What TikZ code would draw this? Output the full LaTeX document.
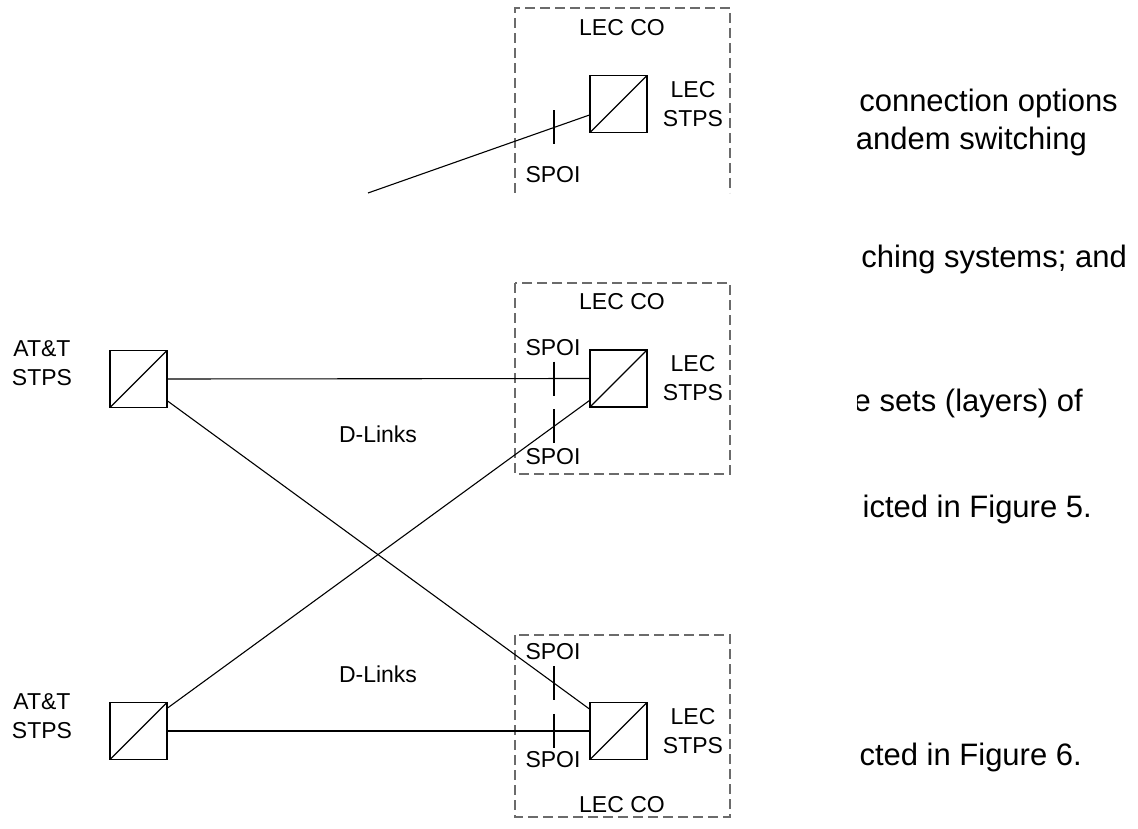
\documentclass[tikz,border=0pt]{standalone}
\usepackage{fontspec}
\setmainfont{Liberation Sans}
\usetikzlibrary{calc,intersections}
\tikzset{
  stp/.style={draw, line width=1.1pt, minimum size=57pt, inner sep=0pt,
    path picture={\draw[line width=1.1pt] (path picture bounding box.south west) -- (path picture bounding box.north east);}},
  lbl/.style={inner sep=0pt, font=\fontsize{23}{29}\selectfont, align=center},
  para/.style={inner sep=0pt, font=\fontsize{31}{38}\selectfont, anchor=base east},
  link/.style={line width=1.1pt},
  cobox/.style={draw=black!58, line width=1.1pt, dash pattern=on 10pt off 5pt},
  tick/.style={line width=1.1pt}
}
\begin{document}
\begin{tikzpicture}[x=1pt,y=-1pt]
\useasboundingbox (0,0) rectangle (1138,829);
% CO boxes
\draw[cobox] (515,193) -- (515,8) -- (730,8) -- (730,193);
\draw[cobox] (515,283) rectangle (730,474);
\draw[cobox] (515,635) rectangle (730,817);
% switches
\node[stp] (lecT) at (618.5,104) {};
\node[stp] (lecM) at (618.5,378.5) {};
\node[stp] (lecB) at (618.5,731) {};
\node[stp] (attU) at (138.5,379) {};
\node[stp] (attL) at (138.5,731) {};
\coordinate (free) at (368,193);
% labels
\node[lbl] (coT) at (622,27.5) {LEC CO};
\node[lbl] (coM) at (622,302) {LEC CO};
\node[lbl] (coB) at (622,805) {LEC CO};
\node[lbl] (stT) at (693,104) {LEC\\STPS};
\node[lbl] (stM) at (693,378) {LEC\\STPS};
\node[lbl] (stB) at (693,731.5) {LEC\\STPS};
\node[lbl] (atU) at (42,363.5) {AT\&T\\STPS};
\node[lbl] (atL) at (42,716) {AT\&T\\STPS};
\node[lbl] (spT) at (553,175) {SPOI};
\node[lbl] (spM1) at (553,348) {SPOI};
\node[lbl] (spM2) at (553,457) {SPOI};
\node[lbl] (spB1) at (553,652) {SPOI};
\node[lbl] (spB2) at (553,760) {SPOI};
\node[lbl] (dl1) at (378,434) {D-Links};
\node[lbl] (dl2) at (378,674) {D-Links};
% links
\path[name path=vert] (554,0) -- (554,829);
\draw[link, name path=L1] (free) -- ($(lecT.west)+(0,11)$);
\draw[link, name path=L2] (attU.east) -- (lecM.west);
\draw[link, name path=L3] ($(attU.east)+(0,22)$) -- ($(lecB.west)+(0,-22)$);
\draw[link, name path=L4] ($(attL.east)+(0,-23)$) -- ($(lecM.west)+(0,22)$);
\draw[link, name path=L5] (attL.east) -- (lecB.west);
% SPOI ticks
\foreach \l in {L1,L2,L3,L4,L5}{
  \path[name intersections={of=vert and \l, by=X}];
  \draw[tick] ($(X)+(0,-17)$) -- ($(X)+(0,17)$);
}
% clipped paragraph text
\begin{scope}
\clip (857,0) rectangle (1138,829);
\node[para] (p1) at (1118,112) {connection options};
\node[para] (p2) at (1087,150) {andem switching};
\node[para] (p3) at (1127,267) {ching systems; and};
\node[para] (p4) at (1083,411) {e sets (layers) of};
\node[para] (p5) at (1092,517) {icted in Figure 5.};
\node[para] (p6) at (1082,765) {cted in Figure 6.};
\end{scope}
\end{tikzpicture}
\end{document}
